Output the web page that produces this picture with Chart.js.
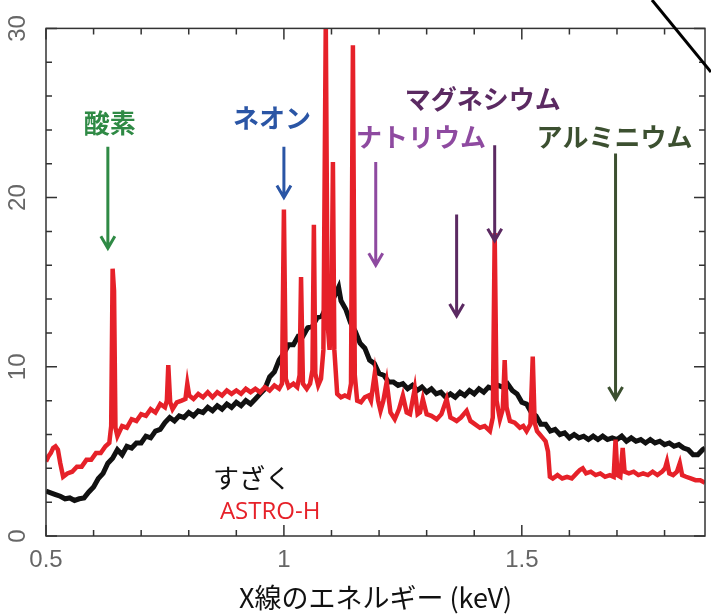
<!DOCTYPE html>
<html lang="ja">
<head>
<meta charset="utf-8">
<title>すざく / ASTRO-H スペクトル</title>
<script src="https://cdn.jsdelivr.net/npm/chart.js@4.4.1/dist/chart.umd.min.js"></script>
<style>
  html, body { margin: 0; padding: 0; background: #fff; }
  #wrap { width: 711px; height: 614px; }
</style>
</head>
<body>
<div id="wrap"><canvas id="spectrumChart" width="711" height="614"></canvas></div>
<script>
// X線のエネルギー (keV) と強度、画像から読み取り
const suzakuEnergy = [
  0.500, 0.510, 0.520, 0.530, 0.540, 0.550, 0.560, 0.570, 0.580, 0.590,
  0.600, 0.610, 0.620, 0.630, 0.640, 0.650, 0.660, 0.670, 0.680, 0.690,
  0.700, 0.710, 0.720, 0.730, 0.740, 0.750, 0.760, 0.770, 0.780, 0.790,
  0.800, 0.810, 0.820, 0.830, 0.840, 0.850, 0.860, 0.870, 0.880, 0.890,
  0.900, 0.910, 0.920, 0.930, 0.940, 0.950, 0.960, 0.970, 0.980, 0.990,
  1.000, 1.010, 1.020, 1.030, 1.040, 1.050, 1.060, 1.070, 1.080, 1.090,
  1.100, 1.110, 1.115, 1.120, 1.130, 1.140, 1.150, 1.160, 1.170, 1.180,
  1.190, 1.200, 1.210, 1.220, 1.230, 1.240, 1.250, 1.260, 1.270, 1.280,
  1.290, 1.300, 1.310, 1.320, 1.330, 1.340, 1.350, 1.360, 1.370, 1.380,
  1.390, 1.400, 1.410, 1.420, 1.430, 1.440, 1.450, 1.460, 1.470, 1.480,
  1.490, 1.500, 1.510, 1.520, 1.530, 1.540, 1.550, 1.560, 1.570, 1.580,
  1.590, 1.600, 1.610, 1.620, 1.630, 1.640, 1.650, 1.660, 1.670, 1.680,
  1.690, 1.700, 1.710, 1.720, 1.730, 1.740, 1.750, 1.760, 1.770, 1.780,
  1.790, 1.800, 1.810, 1.820, 1.830, 1.840, 1.850, 1.860, 1.870, 1.880, 1.885
];
const suzakuCounts = [
  2.65, 2.55, 2.45, 2.35, 2.2, 2.25, 2.1, 2.2, 2.25, 2.6,
  2.9, 3.4, 3.7, 4.3, 4.6, 5.1, 4.8, 5.3, 5.2, 5.5,
  5.5, 5.9, 5.8, 6.2, 6.3, 6.7, 7.0, 6.8, 7.1, 7.0,
  7.3, 7.1, 7.4, 7.3, 7.6, 7.4, 7.7, 7.5, 7.8, 7.6,
  7.9, 7.7, 8.0, 7.8, 8.1, 8.4, 8.7, 9.4, 9.7, 10.4,
  10.8, 11.3, 11.3, 11.8, 11.8, 12.3, 12.4, 12.9, 13.0, 13.6,
  13.8, 14.4, 14.7, 13.9, 13.4, 12.6, 12.1, 11.4, 11.1, 10.4,
  10.2, 9.6, 9.5, 9.1, 9.1, 8.9, 9.0, 8.7, 8.9, 8.6,
  8.8, 8.5, 8.7, 8.4, 8.5, 8.2, 8.4, 8.2, 8.5, 8.3,
  8.6, 8.4, 8.7, 8.5, 8.8, 8.7, 8.9, 8.8, 9.0, 8.6,
  8.4, 7.9, 7.8, 7.3, 7.1, 6.6, 6.6, 6.2, 6.3, 6.0,
  6.1, 5.8, 6.0, 5.8, 5.9, 5.7, 5.9, 5.7, 5.9, 5.7,
  5.8, 5.7, 5.9, 5.6, 5.8, 5.6, 5.7, 5.5, 5.7, 5.5,
  5.6, 5.4, 5.5, 5.3, 5.4, 5.2, 5.1, 4.8, 4.8, 5.1, 5.2
];

const astroEnergy = [
  0.500, 0.505, 0.510, 0.515, 0.520, 0.525, 0.530, 0.536, 0.545, 0.555,
  0.565, 0.575, 0.585, 0.595, 0.605, 0.615, 0.625, 0.633, 0.637, 0.640,
  0.643, 0.646, 0.650, 0.660, 0.670, 0.680, 0.690, 0.700, 0.710, 0.720,
  0.730, 0.740, 0.750, 0.754, 0.757, 0.761, 0.766, 0.775, 0.785, 0.793,
  0.797, 0.801, 0.810, 0.820, 0.830, 0.840, 0.850, 0.860, 0.870, 0.880,
  0.890, 0.900, 0.910, 0.920, 0.930, 0.940, 0.950, 0.960, 0.970, 0.980,
  0.990, 0.996, 1.000, 1.004, 1.010, 1.020, 1.028, 1.033, 1.036, 1.040,
  1.048, 1.055, 1.060, 1.063, 1.066, 1.072, 1.078, 1.083, 1.088, 1.092,
  1.096, 1.100, 1.103, 1.106, 1.112, 1.120, 1.128, 1.136, 1.141, 1.145,
  1.149, 1.154, 1.162, 1.170, 1.178, 1.183, 1.191, 1.198, 1.203, 1.209,
  1.216, 1.224, 1.233, 1.242, 1.250, 1.258, 1.265, 1.275, 1.281, 1.286,
  1.292, 1.300, 1.310, 1.321, 1.331, 1.342, 1.350, 1.357, 1.363, 1.372,
  1.384, 1.392, 1.402, 1.412, 1.422, 1.433, 1.439, 1.443, 1.447, 1.454,
  1.460, 1.464, 1.468, 1.475, 1.485, 1.496, 1.503, 1.510, 1.518, 1.523,
  1.527, 1.532, 1.538, 1.544, 1.550, 1.555, 1.559, 1.565, 1.575, 1.585,
  1.595, 1.605, 1.615, 1.622, 1.628, 1.635, 1.645, 1.655, 1.665, 1.675,
  1.685, 1.693, 1.697, 1.701, 1.707, 1.712, 1.716, 1.725, 1.735, 1.745,
  1.755, 1.765, 1.775, 1.785, 1.795, 1.801, 1.805, 1.810, 1.818, 1.826,
  1.832, 1.837, 1.845, 1.855, 1.865, 1.875, 1.885
];
const astroCounts = [
  4.4, 4.7, 4.9, 5.2, 5.3, 5.1, 4.3, 3.5, 3.7, 3.8,
  4.1, 4.1, 4.5, 4.5, 4.9, 4.9, 5.3, 5.5, 6.5, 15.8,
  14.5, 6.4, 5.9, 6.5, 6.4, 6.9, 6.8, 7.2, 7.1, 7.5,
  7.3, 7.8, 7.6, 8.0, 10.1, 7.9, 7.5, 7.9, 8.0, 8.1,
  9.0, 8.3, 8.1, 8.4, 8.2, 8.5, 8.2, 8.5, 8.3, 8.6,
  8.4, 8.6, 8.4, 8.7, 8.5, 8.7, 8.5, 8.8, 8.6, 8.9,
  8.7, 9.0, 19.3, 9.3, 8.8, 9.0, 8.8, 9.5, 15.3, 9.0,
  8.7, 9.0, 9.8, 18.4, 9.6, 8.9, 9.3, 11.0, 30.5, 12.5,
  11.0, 13.0, 22.1, 11.0, 8.4, 8.2, 8.3, 8.2, 9.0, 29.0,
  9.5, 8.0, 7.9, 8.2, 8.3, 8.0, 9.6, 8.0, 7.4, 8.0,
  9.1, 7.3, 6.9, 7.5, 8.3, 7.3, 7.2, 8.7, 7.2, 7.3,
  8.1, 7.2, 7.1, 6.9, 7.2, 8.1, 7.0, 6.9, 6.8, 7.0,
  7.4, 6.8, 6.6, 6.4, 6.5, 6.2, 7.0, 17.9, 8.0, 6.9,
  7.5, 10.4, 7.6, 6.8, 6.7, 6.4, 6.5, 6.2, 6.6, 10.6,
  6.7, 6.2, 6.0, 5.8, 5.6, 5.0, 3.5, 3.4, 3.6, 3.4,
  3.5, 3.4, 3.7, 3.9, 4.0, 3.7, 3.8, 3.6, 3.7, 3.5,
  3.6, 3.5, 5.7, 3.6, 3.5, 5.2, 3.8, 3.7, 3.8, 3.6,
  3.7, 3.6, 3.8, 3.6, 3.8, 4.0, 4.4, 3.7, 3.6, 3.8,
  4.3, 3.6, 3.5, 3.4, 3.3, 3.3, 3.15
];

const xLabelTicks = [0.5, 1.0, 1.5];
const xMinorTicks = [0.6, 0.7, 0.8, 0.9, 1.1, 1.2, 1.3, 1.4, 1.6, 1.7, 1.8];
const yLabelTicks = [0, 10, 20, 30];
const yMinorTicks = [2, 4, 6, 8, 12, 14, 16, 18, 22, 24, 26, 28];

// 元素名と矢印 (keV, 強度)
const lineNames   = ['酸素', 'ネオン', 'ナトリウム', 'マグネシウム', '', 'アルミニウム'];
const lineColors  = ['#2f8a45', '#2a55a5', '#8e4aa0', '#5b2a62', '#5b2a62', '#3c5030'];
const labelEnergy = [0.634, 0.975, 1.288, 1.418, null, 1.695];
const labelLevel  = [24.4, 24.7, 23.6, 25.8, null, 23.6];
const arrowEnergy = [0.630, 1.000, 1.193, 1.443, 1.363, 1.697];
const arrowTop    = [23.0, 23.0, 22.1, 23.1, 19.0, 22.6];
const arrowTip    = [17.0, 20.0, 16.0, 17.45, 13.0, 8.1];

const seriesNames  = ['すざく', 'ASTRO-H'];
const seriesColors = ['#111111', '#e62129'];
const seriesLabelEnergy = [0.933, 0.971];
const seriesLabelLevel  = [3.4, 1.4];

function toPoints(xs, ys) {
  return xs.map((x, i) => ({ x: x, y: ys[i] }));
}

const framePlugin = {
  id: 'framePlugin',
  afterDraw(chart) {
    const ctx = chart.ctx;
    const area = chart.chartArea;
    const xs = chart.scales.x;
    const ys = chart.scales.y;

    ctx.save();
    ctx.strokeStyle = '#333';
    ctx.lineWidth = 1.5;
    ctx.strokeRect(area.left, area.top, area.right - area.left, area.bottom - area.top);

    // 内向きの目盛り
    const tick = (vals, len, horiz) => {
      vals.forEach(v => {
        ctx.beginPath();
        if (horiz) {
          const px = xs.getPixelForValue(v);
          ctx.moveTo(px, area.bottom); ctx.lineTo(px, area.bottom - len);
          ctx.moveTo(px, area.top); ctx.lineTo(px, area.top + len);
        } else {
          const py = ys.getPixelForValue(v);
          ctx.moveTo(area.left, py); ctx.lineTo(area.left + len, py);
          ctx.moveTo(area.right, py); ctx.lineTo(area.right - len, py);
        }
        ctx.stroke();
      });
    };
    tick(xMinorTicks, 6, true);
    tick(xLabelTicks, 11, true);
    tick(yMinorTicks, 6, false);
    tick(yLabelTicks, 11, false);

    // 矢印
    ctx.lineWidth = 3;
    arrowEnergy.forEach((e, i) => {
      const px = xs.getPixelForValue(e);
      const y1 = ys.getPixelForValue(arrowTop[i]);
      const y2 = ys.getPixelForValue(arrowTip[i]);
      ctx.strokeStyle = lineColors[i];
      ctx.beginPath();
      ctx.moveTo(px, y1); ctx.lineTo(px, y2);
      ctx.moveTo(px - 7, y2 - 12); ctx.lineTo(px, y2); ctx.lineTo(px + 7, y2 - 12);
      ctx.stroke();
    });

    // 元素名
    ctx.textAlign = 'center';
    ctx.textBaseline = 'middle';
    ctx.font = 'bold 26px "Noto Sans CJK JP"';
    lineNames.forEach((name, i) => {
      if (!name) return;
      ctx.fillStyle = lineColors[i];
      ctx.fillText(name, xs.getPixelForValue(labelEnergy[i]), ys.getPixelForValue(labelLevel[i]));
    });

    // 衛星名
    ctx.fillStyle = seriesColors[0];
    ctx.font = '26px "Noto Sans CJK JP"';
    ctx.fillText(seriesNames[0], xs.getPixelForValue(seriesLabelEnergy[0]), ys.getPixelForValue(seriesLabelLevel[0]));
    ctx.fillStyle = seriesColors[1];
    ctx.font = '24px "Open Sans"';
    ctx.fillText(seriesNames[1], xs.getPixelForValue(seriesLabelEnergy[1]), ys.getPixelForValue(seriesLabelLevel[1]));

    // 右上の斜線
    ctx.strokeStyle = '#000';
    ctx.lineWidth = 3;
    ctx.beginPath();
    ctx.moveTo(652, 0); ctx.lineTo(711, 72);
    ctx.stroke();
    ctx.restore();
  }
};

const ctx = document.getElementById('spectrumChart').getContext('2d');
new Chart(ctx, {
  type: 'line',
  data: {
    datasets: [
      {
        label: seriesNames[1],
        data: toPoints(astroEnergy, astroCounts),
        borderColor: seriesColors[1],
        borderWidth: 4.5,
        pointRadius: 0,
        tension: 0
      },
      {
        label: seriesNames[0],
        data: toPoints(suzakuEnergy, suzakuCounts),
        borderColor: seriesColors[0],
        borderWidth: 5,
        pointRadius: 0,
        tension: 0
      }
    ]
  },
  options: {
    responsive: false,
    animation: false,
    devicePixelRatio: 1,
    layout: { padding: { top: 22, right: 6, left: 0, bottom: 0 } },
    plugins: { legend: { display: false }, tooltip: { enabled: false } },
    scales: {
      x: {
        type: 'linear',
        min: 0.5,
        max: 1.885,
        afterBuildTicks: s => { s.ticks = xLabelTicks.map(v => ({ value: v })); },
        afterFit: s => { s.height = 78; },
        grid: { display: false, drawTicks: false },
        border: { display: false },
        ticks: {
          color: '#666',
          font: { family: 'Liberation Sans', size: 24 },
          padding: 10,
          maxRotation: 0,
          autoSkip: false,
          callback: v => String(v)
        },
        title: {
          display: true,
          text: 'X線のエネルギー (keV)',
          color: '#111',
          font: { family: 'Noto Sans CJK JP', size: 27 },
          padding: { top: 0, bottom: 0 }
        }
      },
      y: {
        min: 0,
        max: 30,
        afterBuildTicks: s => { s.ticks = yLabelTicks.map(v => ({ value: v })); },
        afterFit: s => { s.width = 46; },
        grid: { display: false, drawTicks: false },
        border: { display: false },
        ticks: {
          color: '#666',
          font: { family: 'Liberation Sans', size: 24 },
          minRotation: 90,
          maxRotation: 90,
          crossAlign: 'center',
          padding: 14,
          autoSkip: false
        }
      }
    }
  },
  plugins: [framePlugin]
});
</script>
</body>
</html>
